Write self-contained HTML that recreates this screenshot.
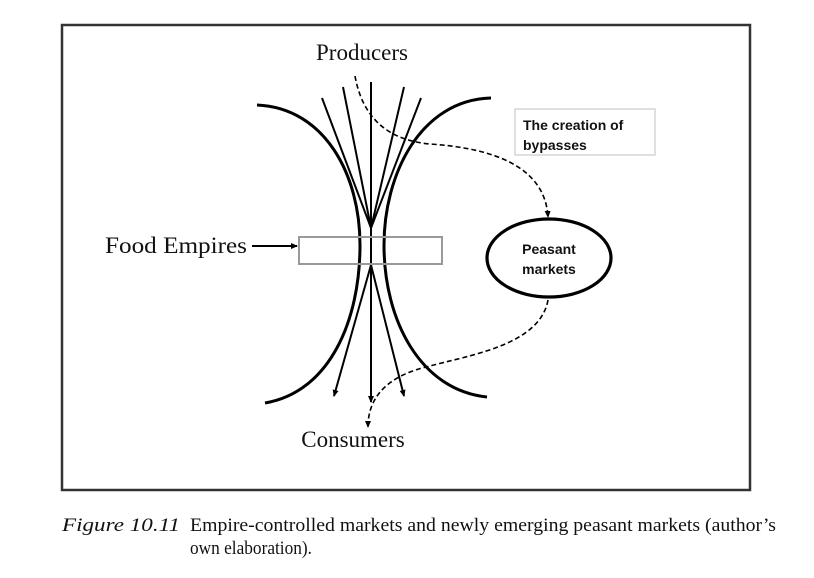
<!DOCTYPE html>
<html><head><meta charset="utf-8"><style>
html,body{margin:0;padding:0;background:#fff;width:814px;height:578px;overflow:hidden}
svg{display:block}
</style></head><body>
<svg width="814" height="578" viewBox="0 0 814 578" xmlns="http://www.w3.org/2000/svg">
<defs>
<marker id="ah" markerWidth="8" markerHeight="8" refX="6" refY="4" orient="auto" markerUnits="userSpaceOnUse"><path d="M0,1 L7,4 L0,7 z" fill="#000"/></marker>
</defs>
<rect x="62" y="25" width="688" height="465" fill="none" stroke="#333" stroke-width="2.5"/>
<g font-family="Liberation Serif, serif" fill="#111">
<text x="362" y="60" font-size="23" text-anchor="middle">Producers</text>
<text x="105" y="253" font-size="23" textLength="142" lengthAdjust="spacingAndGlyphs">Food Empires</text>
<text x="353" y="447" font-size="23" text-anchor="middle">Consumers</text>
</g>
<g fill="none" stroke="#000">
<path d="M257,105 C325,108 360,175 360,245 C360,320 330,392 265,403" stroke-width="3"/>
<path d="M491,98 C420,100 384,175 384,245 C384,320 420,390 487,397" stroke-width="3"/>
<g stroke-width="2">
<line x1="322" y1="98" x2="371" y2="228"/>
<line x1="343" y1="87" x2="371" y2="228"/>
<line x1="371" y1="82" x2="371" y2="228"/>
<line x1="404" y1="87" x2="371" y2="228"/>
<line x1="421" y1="98" x2="371" y2="228"/>
<line x1="371" y1="265" x2="334" y2="396" marker-end="url(#ah)"/>
<line x1="371" y1="265" x2="371" y2="402" marker-end="url(#ah)"/>
<line x1="371" y1="265" x2="404" y2="396" marker-end="url(#ah)"/>
<line x1="371" y1="228" x2="371" y2="265"/>
<line x1="252" y1="246" x2="297" y2="246" marker-end="url(#ah)"/>
</g>
<rect x="299" y="237" width="143" height="27" stroke="#999" stroke-width="2"/>
<path d="M355,76 C362,115 385,140 430,144 C490,148 545,165 548,217" stroke-width="1.6" stroke-dasharray="5,3" marker-end="url(#ah)"/>
<path d="M548,300 C540,345 470,355 430,366 C390,375 368,395 368,427" stroke-width="1.6" stroke-dasharray="5,3" marker-end="url(#ah)"/>
<rect x="515" y="109" width="140" height="46" stroke="#ccc" stroke-width="1.2"/>
<ellipse cx="549" cy="258" rx="62" ry="39" stroke-width="3.2"/>
</g>
<g font-family="Liberation Sans, sans-serif" font-weight="bold" font-size="14" fill="#111">
<text x="523" y="130">The creation of</text>
<text x="523" y="150">bypasses</text>
<text x="549" y="254" text-anchor="middle">Peasant</text>
<text x="549" y="274" text-anchor="middle">markets</text>
</g>
<g font-family="Liberation Serif, serif" font-size="19" fill="#111">
<text x="62" y="531" font-style="italic" textLength="118" lengthAdjust="spacingAndGlyphs">Figure 10.11</text>
<text x="190" y="531" textLength="586" lengthAdjust="spacingAndGlyphs">Empire-controlled markets and newly emerging peasant markets (author’s</text>
<text x="190" y="554" textLength="122" lengthAdjust="spacingAndGlyphs">own elaboration).</text>
</g>
</svg>
</body></html>
